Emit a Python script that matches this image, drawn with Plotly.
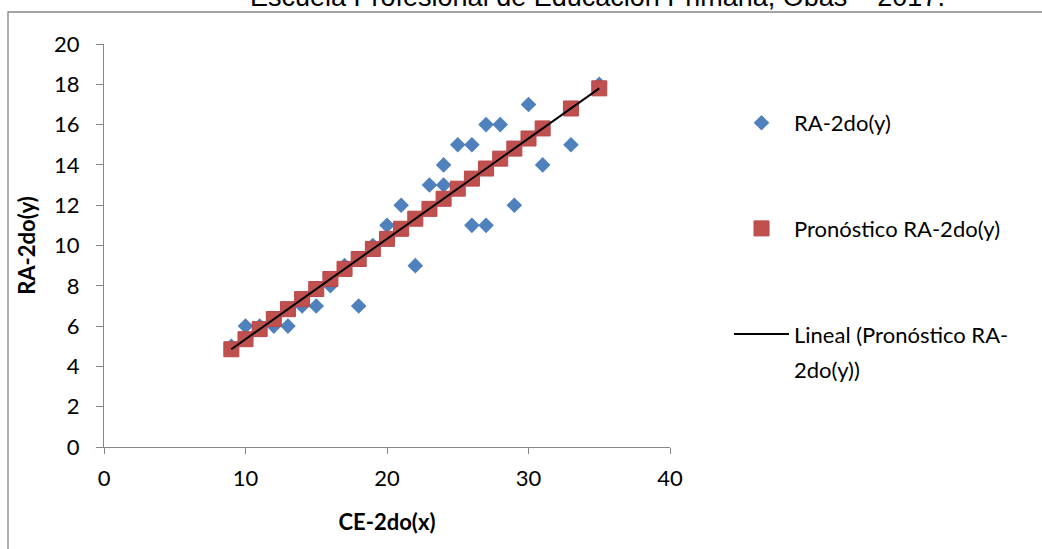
import plotly.graph_objects as go

# Observed data
x_obs = [9, 10, 11, 12, 13, 14, 15, 16, 17, 18, 19, 20, 21, 22, 23, 24, 24, 25, 26, 26, 27, 27, 28, 29, 30, 31, 33, 35]
y_obs = [5, 6, 6, 6, 6, 7, 7, 8, 9, 7, 10, 11, 12, 9, 13, 13, 14, 15, 15, 11, 16, 11, 16, 12, 17, 14, 15, 18]

# Forecast values
x_pred = [9, 10, 11, 12, 13, 14, 15, 16, 17, 18, 19, 20, 21, 22, 23, 24, 25, 26, 27, 28, 29, 30, 31, 33, 35]
y_pred = [4.85, 5.35, 5.85, 6.35, 6.84, 7.34, 7.84, 8.34, 8.84, 9.33, 9.83, 10.33, 10.83, 11.33,
          11.82, 12.32, 12.82, 13.32, 13.82, 14.31, 14.81, 15.31, 15.81, 16.80, 17.80]

# Trend line endpoints
x_trend = [9, 35]
y_trend = [4.85, 17.80]

title_text = "Escuela Profesional de Educación Primaria, Obas – 2017."
x_title = "CE-2do(x)"
y_title = "RA-2do(y)"
names = ["RA-2do(y)", "Pronóstico RA-2do(y)", "Lineal (Pronóstico RA-"]
name3_cont = "2do(y))"

W, H = 1042, 549
L, R, T, B = 104, 372, 44, 102
pw, ph = W - L - R, H - T - B

def px_x(p):
    return (p - L) / pw

def px_y(p):
    return 1 - (p - T) / ph

font_main = "Lato, Calibri, Carlito, sans-serif"
axis_col = "#868686"

fig = go.Figure()
fig.add_trace(go.Scatter(
    x=x_obs, y=y_obs, mode="markers", name=names[0], legendgroup="a",
    marker=dict(symbol="diamond", size=12, color="#4F81BD", line=dict(width=0)),
))
fig.add_trace(go.Scatter(
    x=x_pred, y=y_pred, mode="markers", name=names[1], legendgroup="b",
    marker=dict(symbol="square", size=15, color="#C0504D", line=dict(width=1, color="#B9474A")),
))
fig.add_trace(go.Scatter(
    x=x_trend, y=y_trend, mode="lines", name=names[2], legendgroup="c",
    line=dict(color="black", width=2),
))

fig.update_layout(
    width=W, height=H,
    margin=dict(l=L, r=R, t=T, b=B, autoexpand=False),
    paper_bgcolor="white", plot_bgcolor="white",
    font=dict(family=font_main, size=22, color="black"),
    showlegend=True,
    legend=dict(
        x=px_x(729), y=px_y(102), xanchor="left", yanchor="top",
        traceorder="grouped", tracegroupgap=74, valign="middle",
        font=dict(family=font_main, size=22, color="black"),
        bgcolor="rgba(0,0,0,0)", itemwidth=55,
    ),
    xaxis=dict(
        range=[0, 40], tickvals=[0, 10, 20, 30, 40], showgrid=False, zeroline=False,
        showline=True, linecolor=axis_col, linewidth=1.3,
        ticks="outside", ticklen=6, tickcolor=axis_col, tickwidth=1.3,
        tickfont=dict(family=font_main, size=22), ticklabelstandoff=5,
        title=dict(text="<b>" + x_title + "</b>", font=dict(family=font_main, size=22), standoff=25),
        automargin=False, fixedrange=True,
    ),
    yaxis=dict(
        range=[0, 20], tickvals=list(range(0, 21, 2)), showgrid=False, zeroline=False,
        showline=True, linecolor=axis_col, linewidth=1.3,
        ticks="outside", ticklen=7, tickcolor=axis_col, tickwidth=1.3,
        tickfont=dict(family=font_main, size=22), ticklabelstandoff=12,
        title=dict(text="<b>" + y_title + "</b>", font=dict(family=font_main, size=22), standoff=12),
        automargin=False, fixedrange=True,
    ),
    shapes=[dict(
        type="rect", xref="paper", yref="paper",
        x0=px_x(8), y0=px_y(560), x1=px_x(1060), y1=px_y(12),
        line=dict(color=axis_col, width=1.3), fillcolor="rgba(0,0,0,0)", layer="below",
    )],
    annotations=[
        dict(
            text=title_text, xref="paper", yref="paper",
            x=px_x(597), y=px_y(14), xanchor="center", yanchor="bottom",
            showarrow=False, font=dict(family="Liberation Sans, Arial, sans-serif", size=27, color="black"),
        ),
        dict(
            text=name3_cont, xref="paper", yref="paper",
            x=px_x(792), y=px_y(369), xanchor="left", yanchor="middle",
            showarrow=False, font=dict(family=font_main, size=22, color="black"),
        ),
    ],
)

fig.write_html(
    "out.html",
    config={"displayModeBar": False, "staticPlot": False},
    post_script="document.body.style.margin='0';document.body.style.overflow='hidden';",
)
